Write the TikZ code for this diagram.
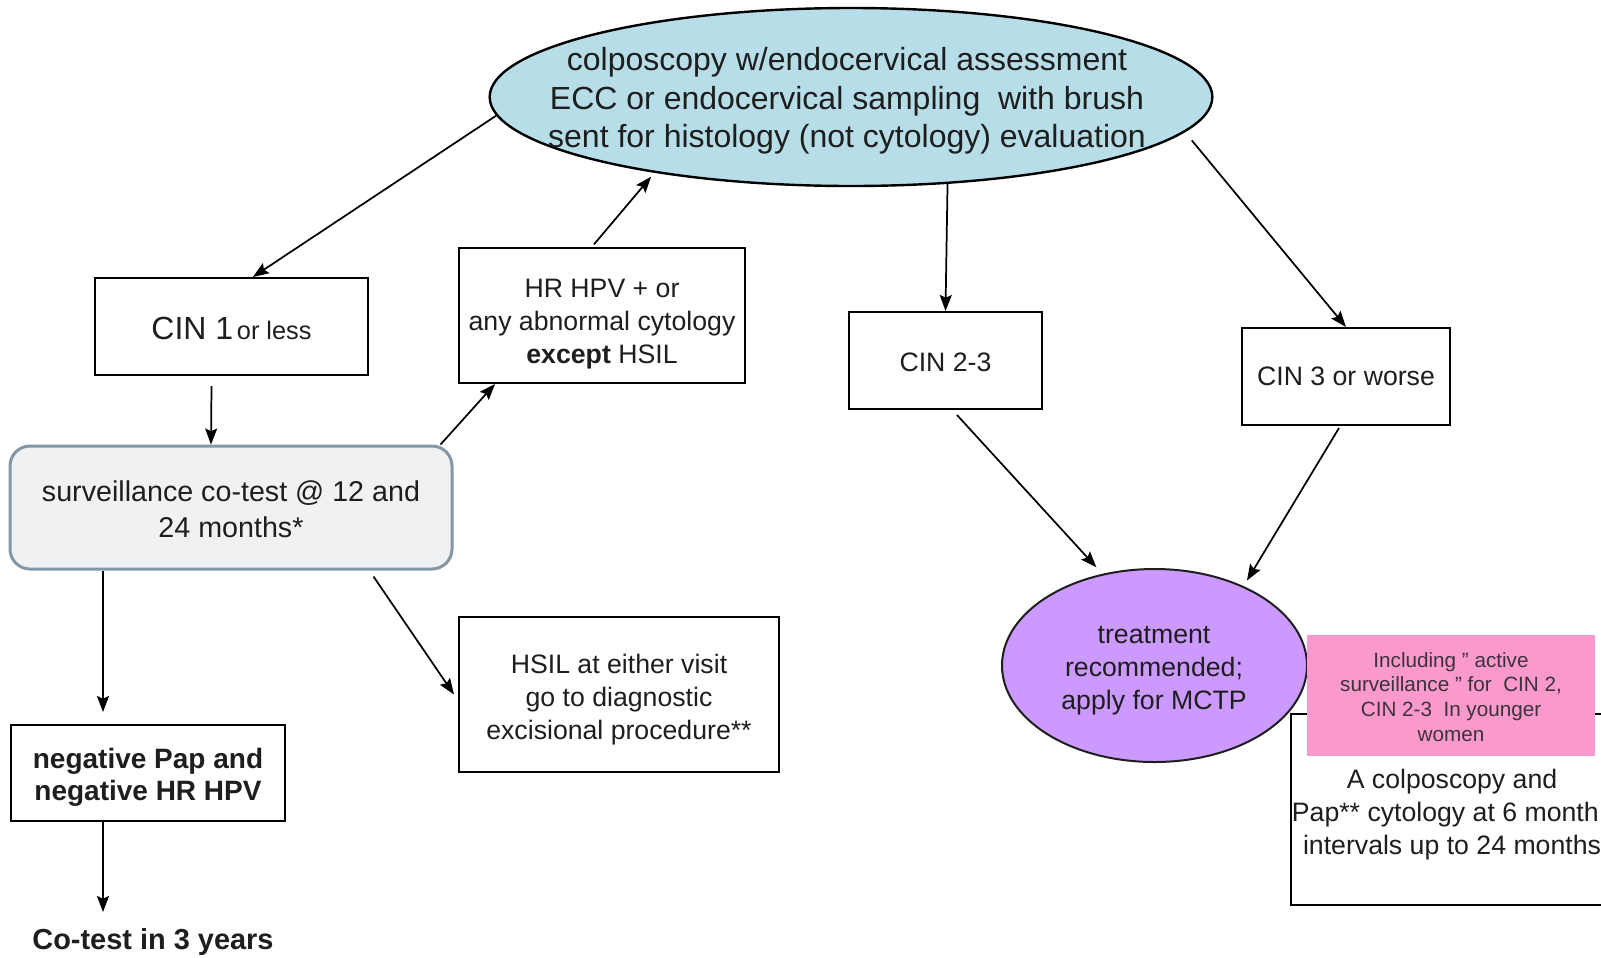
\documentclass[tikz,border=0pt]{standalone}
\usepackage{fontspec}
\setmainfont{Liberation Sans}
\usetikzlibrary{shapes.geometric,arrows.meta,calc}
\definecolor{ellblue}{HTML}{B7DEE8}
\definecolor{treatpurple}{HTML}{CC99FF}
\definecolor{notepink}{HTML}{FA9ACC}
\definecolor{survfill}{HTML}{F0F1F3}
\definecolor{survline}{RGB}{132,151,166}
\definecolor{txt}{HTML}{1E1E1E}
\begin{document}
\begin{tikzpicture}[x=0.75pt,y=-0.75pt,
  box/.style={draw=black, line width=1.5pt, rectangle, inner sep=0pt, align=center, text=txt},
  plain/.style={inner sep=0pt, align=center, text=txt},
  arr/.style={-{Stealth[length=12pt,width=9pt,inset=2pt]}, line width=1.3pt},
]
\fill[white] (0,0) rectangle (1601,957);
\useasboundingbox (0,0) rectangle (1601,957);
\clip (0,0) rectangle (1601,957);

% top ellipse
\node[ellipse, draw=black, line width=1.8pt, fill=ellblue, inner sep=0pt,
      minimum width=542pt, minimum height=133.5pt] (colpo) at (851,97) {};
\node[plain, font=\fontsize{24}{29}\selectfont] (colpotxt) at (847,101)
  {colposcopy w/endocervical assessment\\ ECC or endocervical sampling\ \ with brush\\ sent for histology (not cytology) evaluation};

% boxes
\node[box, minimum width=204.75pt, minimum height=72.75pt] (cin1) at (231.5,326.5)
  {\rule{0pt}{20pt}{\fontsize{24}{28}\selectfont CIN 1} {\fontsize{19}{22}\selectfont or less}};
\node[box, minimum width=214.5pt, minimum height=101.25pt, font=\fontsize{20}{25}\selectfont] (hr) at (602,315.5)
  {\rule{0pt}{26.5pt}HR HPV + or\\ any abnormal cytology\\ \textbf{except} HSIL};
\node[box, minimum width=144.75pt, minimum height=72.75pt, font=\fontsize{20}{24}\selectfont] (cin23) at (945.5,360.5)
  {\rule{0pt}{17pt}CIN 2-3};
\node[box, minimum width=156pt, minimum height=72.75pt, font=\fontsize{20}{24}\selectfont] (cin3) at (1346,376.5)
  {CIN 3 or worse};
\node[box, draw=survline, line width=2.25pt, fill=survfill, rounded corners=15pt,
      minimum width=331.5pt, minimum height=92.25pt, font=\fontsize{21.5}{27}\selectfont] (surv) at (231,507.5)
  {\rule{0pt}{18.5pt}surveillance co-test @ 12 and\\ 24 months*};
\node[box, minimum width=240pt, minimum height=116.25pt, font=\fontsize{20}{24.5}\selectfont] (hsil) at (619,694.5)
  {\rule{0pt}{22pt}HSIL at either visit\\ go to diagnostic\\ excisional procedure**};
\node[box, minimum width=205.5pt, minimum height=72pt, font=\bfseries\fontsize{21}{24.5}\selectfont] (neg) at (148,773)
  {\rule{0pt}{21.5pt}negative Pap and\\ negative HR HPV};
\node[plain, font=\bfseries\fontsize{21.7}{26}\selectfont] (cotest) at (153,942) {Co-test in 3 years};

% right bottom group
\node[box, minimum width=241.5pt, minimum height=143.25pt, font=\fontsize{20}{24.5}\selectfont] (later) at (1452,809.5)
  {\rule{0pt}{22pt}A colposcopy and\\ Pap** cytology at 6 month\phantom{s}\\ intervals up to 24 months};
\node[ellipse, draw=txt, line width=1.5pt, fill=treatpurple, inner sep=0pt,
      minimum width=228.75pt, minimum height=144.75pt] (treat) at (1154.5,665.5) {};
\node[plain, font=\fontsize{20}{24.75}\selectfont] (treattxt) at (1154,671)
  {treatment\\ recommended;\\ apply for MCTP};
\node[rectangle, fill=notepink, inner sep=0pt, minimum width=216pt, minimum height=90.75pt,
      align=center, text={rgb,255:red,60;green,50;blue,60}, font=\fontsize{15.5}{18.5}\selectfont] (pink) at (1451,695.5)
  {\rule{0pt}{13pt}Including " active\\ surveillance " for\ \ CIN 2,\\ CIN 2-3\ \ In younger\\ women};

% connectors
\coordinate (cotestarrow) at (103,912);
\draw[arr] (colpo.183) -- ([xshift=16pt]cin1.north);
\draw[arr] ([xshift=-6pt,yshift=2pt]hr.north) -- ([shift={(-2pt,-3pt)}]colpo.201);
\draw[arr] (colpo.318) -- (cin23.north);
\draw[arr, shorten <=8pt] (colpo.354) -- (cin3.north);
\draw[arr] ([xshift=-15pt,yshift=-7.5pt]cin1.south) -- ([xshift=-15pt]surv.north);
\draw[arr] ([xshift=-9.75pt]surv.north east) -- ([xshift=27.75pt]hr.south west);
\draw[arr] ([xshift=-33.75pt]neg.north |- surv.south) -- ([xshift=-33.75pt,yshift=9pt]neg.north);
\draw[arr] ([xshift=-60pt,yshift=-4.5pt]surv.south east) -- ([xshift=-3pt]hsil.west);
\draw[arr] ([xshift=-33.75pt]neg.south) -- (cotestarrow);
\draw[arr] ([xshift=8.6pt,yshift=-3.75pt]cin23.south) -- ([shift={(-4pt,5pt)}]treat.120);
\draw[arr] ([xshift=-5.25pt,yshift=-1.5pt]cin3.south) -- ([shift={(3pt,4pt)}]treat.42);
\end{tikzpicture}
\end{document}
